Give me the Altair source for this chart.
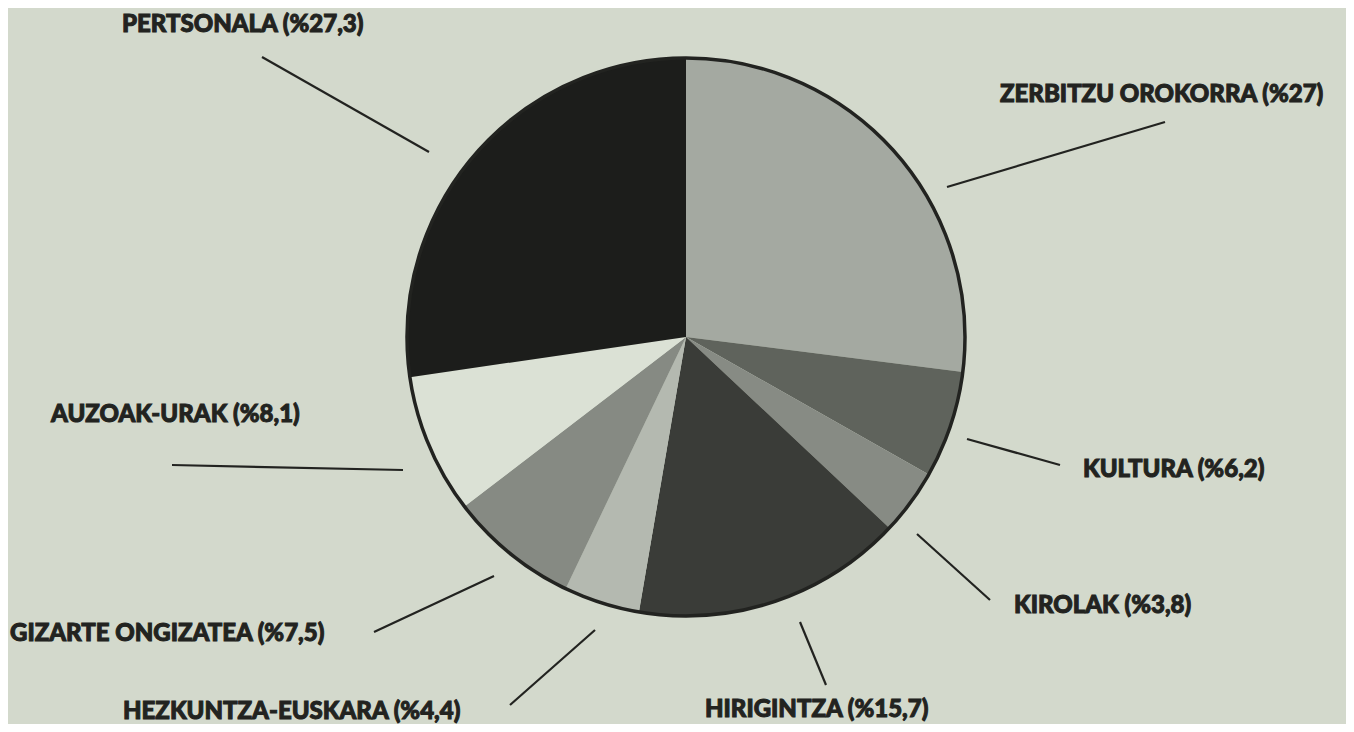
import altair as alt
import pandas as pd
import numpy as np

# ---- data ----
categories = ["ZERBITZU OROKORRA", "KULTURA", "KIROLAK", "HIRIGINTZA",
              "HEZKUNTZA-EUSKARA", "GIZARTE ONGIZATEA", "AUZOAK-URAK", "PERTSONALA"]
shares = [27.0, 6.2, 3.8, 15.7, 4.4, 7.5, 8.1, 27.3]
share_labels = ["%27", "%6,2", "%3,8", "%15,7", "%4,4", "%7,5", "%8,1", "%27,3"]

# ---- styles ----
fills = ["#a4a9a1", "#5f635c", "#878b84", "#3a3c38", "#b4b9b0", "#868a83", "#dbe1d5", "#1c1d1b"]
BG = "#d3d9cc"
INK = "#222320"

# ---- layout (chart pixel space) ----
W, H = 1338, 716
CX, CY, R = 678, 329, 279
label_x = [992, 1075, 1006, 697, 115, 2, 43, 114]
label_y = [94, 469, 605, 709, 711, 633, 414, 24]      # text baselines
line_x1 = [939, 959, 909, 792, 587, 486, 395, 421]
line_y1 = [179, 431, 526, 614, 622, 568, 462, 144]
line_x2 = [1157, 1052, 982, 818, 502, 366, 164, 254]
line_y2 = [114, 457, 592, 677, 697, 624, 457, 49]

df = pd.DataFrame({
    "cat": categories,
    "share": shares,
    "idx": list(range(len(categories))),
})
labels = pd.DataFrame({
    "text": [f"{c} ({s})" for c, s in zip(categories, share_labels)],
    "x": label_x, "y": label_y,
})
lines = pd.DataFrame({"x": line_x1, "y": line_y1, "x2": line_x2, "y2": line_y2})
ring = pd.DataFrame({"v": [1]})

pie = alt.Chart(df).mark_arc(outerRadius=R).encode(
    theta=alt.Theta("share:Q", stack=True),
    color=alt.Color("cat:N", scale=alt.Scale(domain=categories, range=fills), legend=None),
    order=alt.Order("idx:Q"),
    x=alt.value(CX), y=alt.value(CY),
)

outline = alt.Chart(ring).mark_arc(
    outerRadius=R, theta=0, theta2=2 * np.pi, fillOpacity=0, stroke=INK, strokeWidth=3.5,
).encode(x=alt.value(CX), y=alt.value(CY))

rules = alt.Chart(lines).mark_rule(color=INK, strokeWidth=2.2).encode(
    x=alt.X("x:Q", scale=None), y=alt.Y("y:Q", scale=None),
    x2="x2:Q", y2="y2:Q",
)

texts = alt.Chart(labels).mark_text(
    align="left", baseline="alphabetic", font="Lato", fontSize=24, fontWeight=900,
    color=INK, stroke=INK, strokeWidth=1.0,
).encode(
    x=alt.X("x:Q", scale=None), y=alt.Y("y:Q", scale=None), text="text:N",
)

chart = alt.layer(pie, outline, rules, texts).properties(
    width=W, height=H, autosize="none", padding=0, background=BG,
).configure_view(stroke=None)

chart.save("out.html", embed_options={"renderer": "svg", "actions": False})
